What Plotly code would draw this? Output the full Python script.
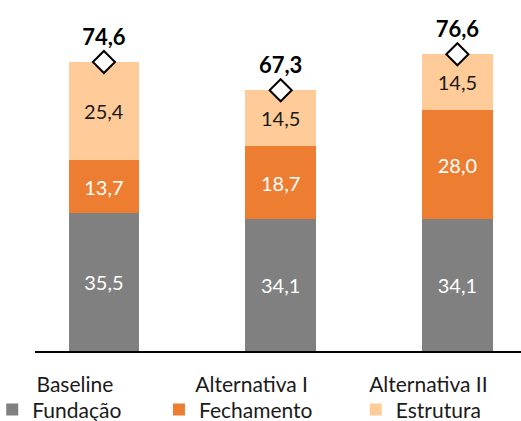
import plotly.graph_objects as go

categories = ["Baseline", "Alternativa I", "Alternativa II"]
fundacao = [35.5, 34.1, 34.1]
fechamento = [13.7, 18.7, 28.0]
estrutura = [25.4, 14.5, 14.5]
totais = [74.6, 67.3, 76.6]

FONT = "Lato"
fig = go.Figure()

series = [
    ("Fundação", fundacao, "#808080", "white", "legend"),
    ("Fechamento", fechamento, "#ED7D31", "white", "legend2"),
    ("Estrutura", estrutura, "#FFCC99", "#1a1a1a", "legend3"),
]
for name, vals, color, tcolor, lg in series:
    fig.add_trace(go.Bar(
        x=categories, y=vals, name=name, marker=dict(color=color, line=dict(width=0)),
        width=0.40, text=vals, texttemplate="%{y:.1f}", textposition="inside",
        insidetextanchor="middle", textangle=0, constraintext="none",
        textfont=dict(family=FONT, size=20, color=tcolor), legend=lg,
        hoverinfo="skip",
    ))

fig.add_trace(go.Scatter(
    x=categories, y=totais, mode="markers+text", showlegend=False,
    marker=dict(symbol="diamond", size=17, color="white", line=dict(color="black", width=2)),
    text=totais, texttemplate="%{y:.1f}", textposition="top center",
    textfont=dict(family=FONT, size=22, color="black", weight="bold"),
    hoverinfo="skip", cliponaxis=False,
))

legend_common = dict(orientation="h", yanchor="middle", y=-0.168, xanchor="left",
                     font=dict(family=FONT, size=21, color="#1a1a1a"),
                     bgcolor="rgba(0,0,0,0)", itemwidth=30, tracegroupgap=0)

fig.update_layout(
    barmode="stack",
    separators=",.",
    width=521, height=421,
    margin=dict(l=35, r=0, t=0, b=70, autoexpand=False),
    paper_bgcolor="white", plot_bgcolor="white",
    font=dict(family=FONT, size=21, color="#1a1a1a"),
    xaxis=dict(range=[-0.39, 2.36], showline=True, linecolor="black", linewidth=2,
               showgrid=False, ticks="", ticklabelstandoff=14, ticklabelshift=-29,
               automargin=False,
               tickfont=dict(family=FONT, size=21, color="#1a1a1a")),
    yaxis=dict(range=[0, 90.6], visible=False, showgrid=False, automargin=False),
    legend=dict(**{**legend_common, "x": -0.088}),
    legend2=dict(**{**legend_common, "x": 0.255}),
    legend3=dict(**{**legend_common, "x": 0.66}),
)

fig.write_html("out.html")
